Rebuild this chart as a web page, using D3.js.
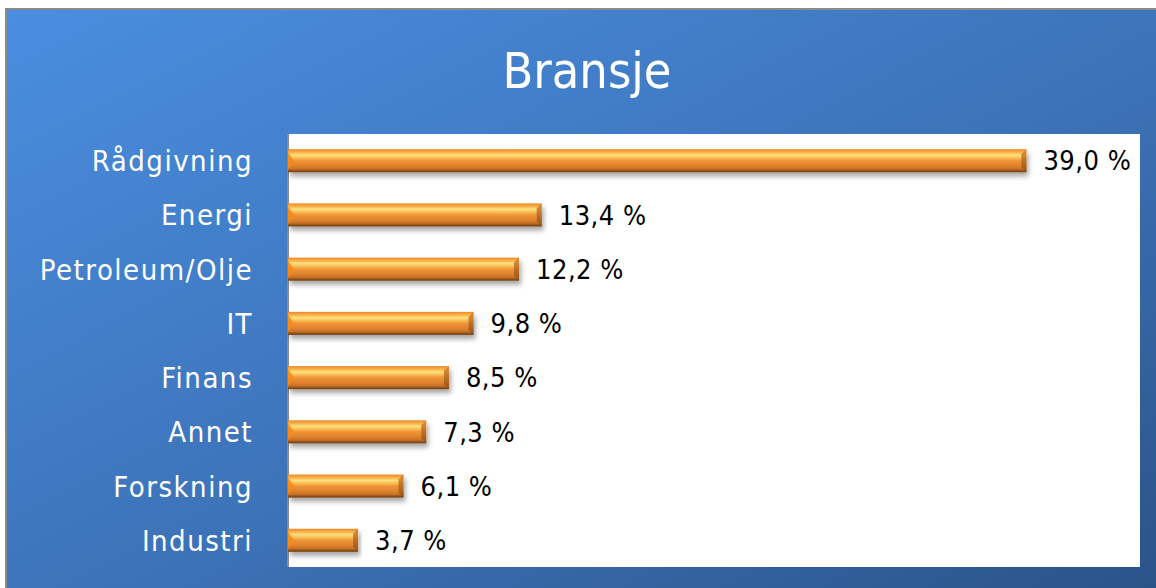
<!DOCTYPE html>
<html>
<head>
<meta charset="utf-8">
<script src="https://cdn.jsdelivr.net/npm/d3@7"></script>
<style>
  html, body { margin: 0; padding: 0; background: #fff; }
  svg { display: block; }
  text { font-family: "DejaVu Sans Condensed", "Liberation Sans Narrow", "DejaVu Sans", sans-serif; }
</style>
</head>
<body>
<div id="chart"></div>
<script>
// chart data
const categories = ["Rådgivning", "Energi", "Petroleum/Olje", "IT", "Finans", "Annet", "Forskning", "Industri"];
const values = [39.0, 13.4, 12.2, 9.8, 8.5, 7.3, 6.1, 3.7];
const title = "Bransje";

const width = 1156, height = 588;
const plot = { left: 288, right: 1140, top: 134, bottom: 567 };

const svg = d3.select('#chart').append('svg')
    .attr('width', width)
    .attr('height', height);

const defs = svg.append('defs');

// blue background gradient
const bg = defs.append('linearGradient')
    .attr('id', 'bgGrad')
    .attr('x1', '0%').attr('y1', '0%')
    .attr('x2', '100%').attr('y2', '100%');
bg.append('stop').attr('offset', '0%').attr('stop-color', '#4a8ee0');
bg.append('stop').attr('offset', '55%').attr('stop-color', '#3c72b7');
bg.append('stop').attr('offset', '100%').attr('stop-color', '#2a5387');

// orange bar gradient
const barGrad = defs.append('linearGradient')
    .attr('id', 'barGrad')
    .attr('x1', '0').attr('y1', '0')
    .attr('x2', '0').attr('y2', '1');
[
    ['0%', '#ec8a28'],
    ['12%', '#f8ac45'],
    ['26%', '#fde27e'],
    ['38%', '#f9bb55'],
    ['50%', '#ef9535'],
    ['72%', '#de822e'],
    ['86%', '#c77125'],
    ['93%', '#93531a'],
    ['100%', '#703d12']
].forEach(s => barGrad.append('stop').attr('offset', s[0]).attr('stop-color', s[1]));

const endGrad = defs.append('linearGradient')
    .attr('id', 'endGrad')
    .attr('x1', '0').attr('y1', '0')
    .attr('x2', '0').attr('y2', '1');
endGrad.append('stop').attr('offset', '0%').attr('stop-color', '#d9822c');
endGrad.append('stop').attr('offset', '100%').attr('stop-color', '#8e4f17');

// drop shadow under bars
const shadow = defs.append('filter')
    .attr('id', 'shadow')
    .attr('x', '-5%').attr('y', '-30%')
    .attr('width', '110%').attr('height', '180%');
shadow.append('feDropShadow')
    .attr('dx', 2).attr('dy', 4)
    .attr('stdDeviation', 2.5)
    .attr('flood-color', '#000')
    .attr('flood-opacity', 0.35);

// background panel
svg.append('rect')
    .attr('x', 6).attr('y', 9)
    .attr('width', width).attr('height', height)
    .attr('fill', 'url(#bgGrad)')
    .attr('stroke', '#8a8a8a')
    .attr('stroke-width', 2);

// title
svg.append('text')
    .attr('x', 587)
    .attr('y', 88)
    .attr('text-anchor', 'middle')
    .attr('fill', '#fff')
    .style('font-size', '50px')
    .text(title);

// white plot area
svg.append('rect')
    .attr('x', plot.left).attr('y', plot.top)
    .attr('width', plot.right - plot.left)
    .attr('height', plot.bottom - plot.top)
    .attr('fill', '#fff');

const x = d3.scaleLinear()
    .domain([0, 45])
    .range([plot.left, plot.right]);

const y = d3.scaleBand()
    .domain(categories)
    .range([plot.top, plot.bottom])
    .paddingInner(0.575)
    .paddingOuter(0.28);

// left axis line + category labels
const yAxis = svg.append('g')
    .attr('transform', `translate(${plot.left},0)`)
    .call(d3.axisLeft(y).tickSize(0).tickPadding(35));
yAxis.select('.domain').attr('stroke', '#8c8c8c').attr('stroke-width', 2)
    .attr('d', `M0,${plot.top}V${plot.bottom}`);
yAxis.selectAll('text')
    .attr('fill', '#fff')
    .style('font-size', '29px')
    .style('letter-spacing', '1.5px')
    .attr('dy', '0.36em');

const data = categories.map((c, i) => ({ cat: c, value: values[i] }));

const bars = svg.selectAll('.bar')
    .data(data)
    .enter().append('g')
    .attr('class', 'bar');

bars.append('rect')
    .attr('x', x(0))
    .attr('y', d => y(d.cat))
    .attr('width', d => x(d.value) - x(0))
    .attr('height', y.bandwidth())
    .attr('fill', 'url(#barGrad)')
    .attr('filter', 'url(#shadow)');

// bevel at the right end of each bar
const bev = 5;
bars.append('path')
    .attr('d', d => {
        const x1 = x(d.value), y0 = y(d.cat), h = y.bandwidth();
        return `M${x1},${y0}L${x1 - bev},${y0 + bev}L${x1 - bev},${y0 + h - bev}L${x1},${y0 + h}Z`;
    })
    .attr('fill', 'url(#endGrad)')
    .attr('opacity', 0.85);

// bevel at the left end
bars.append('path')
    .attr('d', d => {
        const x0 = x(0), y0 = y(d.cat), h = y.bandwidth();
        return `M${x0},${y0 + 3}L${x0 + bev + 1},${y0 + h / 2}L${x0},${y0 + h - 3}Z`;
    })
    .attr('fill', '#f5891a')
    .attr('opacity', 0.9);

// value labels
bars.append('text')
    .attr('x', d => x(d.value) + 17)
    .attr('y', d => y(d.cat) + y.bandwidth() / 2)
    .attr('dy', '0.36em')
    .attr('fill', '#000')
    .style('font-size', '27px')
    .style('letter-spacing', '0.5px')
    .text(d => d.value.toFixed(1).replace('.', ',') + '\u00a0%');
</script>
</body>
</html>
